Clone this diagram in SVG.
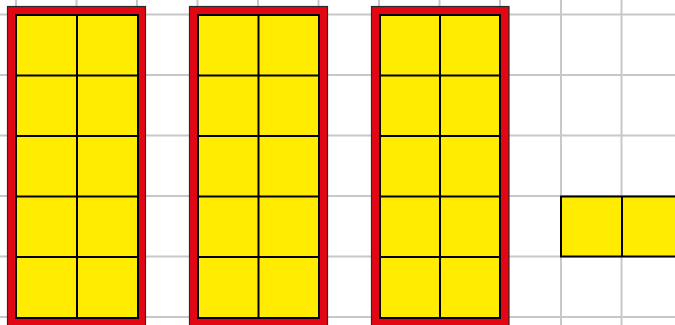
<svg xmlns="http://www.w3.org/2000/svg" width="675" height="325" viewBox="0 0 675 325">
  <defs>
    <style>
      .grid line { stroke: #c8c8c8; stroke-width: 2; }
      .frame { fill: #e30613; stroke: #2a2a2a; stroke-width: 1.2; }
      .tile { fill: #ffec00; stroke: #000; stroke-width: 2; }
      .cell { stroke: #000; stroke-width: 2; }
    </style>
  </defs>
  <rect x="0" y="0" width="675" height="325" fill="#ffffff"/>
  <g id="grid" class="grid">
    <line x1="16" y1="0" x2="16" y2="325"/>
    <line x1="76.5" y1="0" x2="76.5" y2="325"/>
    <line x1="137" y1="0" x2="137" y2="325"/>
    <line x1="197.5" y1="0" x2="197.5" y2="325"/>
    <line x1="258" y1="0" x2="258" y2="325"/>
    <line x1="318.5" y1="0" x2="318.5" y2="325"/>
    <line x1="379" y1="0" x2="379" y2="325"/>
    <line x1="439.5" y1="0" x2="439.5" y2="325"/>
    <line x1="500" y1="0" x2="500" y2="325"/>
    <line x1="561" y1="0" x2="561" y2="325"/>
    <line x1="621.5" y1="0" x2="621.5" y2="325"/>
    <line x1="0" y1="14.5" x2="675" y2="14.5"/>
    <line x1="0" y1="75" x2="675" y2="75"/>
    <line x1="0" y1="135.5" x2="675" y2="135.5"/>
    <line x1="0" y1="196" x2="675" y2="196"/>
    <line x1="0" y1="256.5" x2="675" y2="256.5"/>
    <line x1="0" y1="317" x2="675" y2="317"/>
  </g>
  <g id="box1">
    <rect class="frame" x="7.5" y="6.5" width="138" height="325"/>
    <rect class="tile" x="16" y="15" width="122" height="303"/>
    <line class="cell" x1="77" y1="15" x2="77" y2="318"/>
    <line class="cell" x1="16" y1="75.5" x2="138" y2="75.5"/>
    <line class="cell" x1="16" y1="136" x2="138" y2="136"/>
    <line class="cell" x1="16" y1="196.5" x2="138" y2="196.5"/>
    <line class="cell" x1="16" y1="257" x2="138" y2="257"/>
  </g>
  <g id="box2">
    <rect class="frame" x="189.5" y="6.5" width="138" height="325"/>
    <rect class="tile" x="198" y="15" width="121" height="303"/>
    <line class="cell" x1="258.5" y1="15" x2="258.5" y2="318"/>
    <line class="cell" x1="198" y1="75.5" x2="319" y2="75.5"/>
    <line class="cell" x1="198" y1="136" x2="319" y2="136"/>
    <line class="cell" x1="198" y1="196.5" x2="319" y2="196.5"/>
    <line class="cell" x1="198" y1="257" x2="319" y2="257"/>
  </g>
  <g id="box3">
    <rect class="frame" x="371.5" y="6.5" width="137.5" height="325"/>
    <rect class="tile" x="380" y="15" width="120" height="303"/>
    <line class="cell" x1="440" y1="15" x2="440" y2="318"/>
    <line class="cell" x1="380" y1="75.5" x2="500" y2="75.5"/>
    <line class="cell" x1="380" y1="136" x2="500" y2="136"/>
    <line class="cell" x1="380" y1="196.5" x2="500" y2="196.5"/>
    <line class="cell" x1="380" y1="257" x2="500" y2="257"/>
  </g>
  <g id="strip">
    <rect class="tile" x="561" y="196.5" width="120" height="60"/>
    <line class="cell" x1="622" y1="196.5" x2="622" y2="256.5"/>
  </g>
</svg>
